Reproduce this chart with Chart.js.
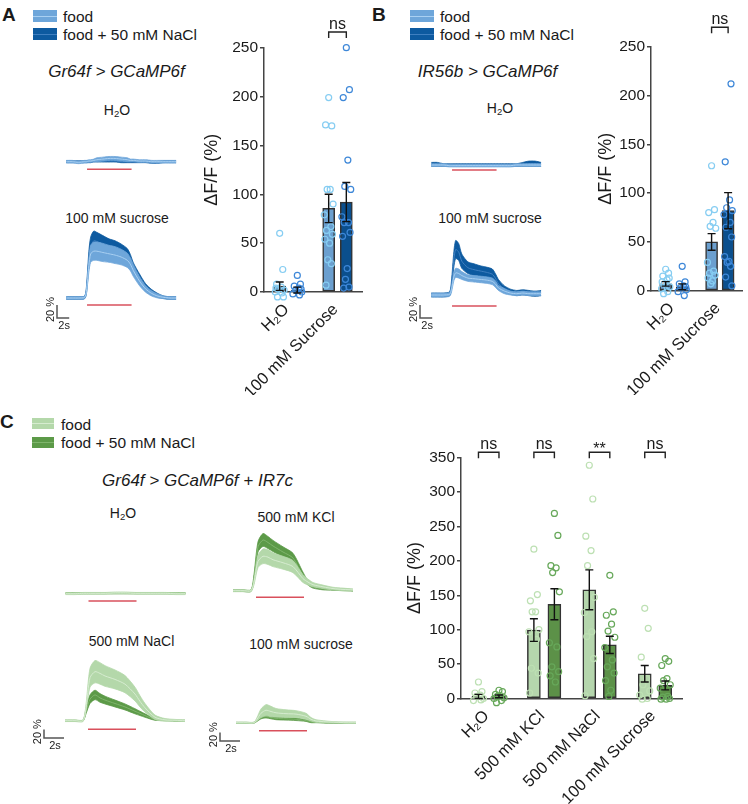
<!DOCTYPE html>
<html><head><meta charset="utf-8">
<script src="https://cdn.jsdelivr.net/npm/chart.js@4.4.1/dist/chart.umd.min.js"></script>
<style>
html,body{margin:0;padding:0;background:#fff;}
body{width:748px;height:804px;position:relative;overflow:hidden;font-family:"Liberation Sans",Arial,Helvetica,sans-serif;color:#1a1a1a;}
canvas{position:absolute;}
.t{position:absolute;white-space:nowrap;transform:translate(-50%,-50%);line-height:1;}
.l{position:absolute;white-space:nowrap;transform:translateY(-50%);line-height:1;font-size:15.5px;}
.sw{position:absolute;}
.sw div{position:absolute;left:0;right:0;height:1px;}
sub{font-size:0.68em;vertical-align:-0.25em;line-height:0;}
.pl{position:absolute;font-weight:bold;font-size:19px;line-height:1;}
.it{font-style:italic;font-size:17px;}
.tl{font-size:14px;}
</style></head><body>

<div class="pl" style="left:2px;top:5px">A</div>
<div class="sw" style="left:33px;top:10px;width:24px;height:12px;background:#6ea6da"><div style="top:5.5px;background:#a9d0f2"></div></div>
<div class="sw" style="left:33px;top:28px;width:24px;height:12px;background:#0d5aa0"><div style="top:5.5px;background:#3f7fc0"></div></div>
<div class="l" style="left:63px;top:17px">food</div>
<div class="l" style="left:63px;top:35px">food + 50 mM NaCl</div>
<div class="t it" style="left:116.5px;top:71px">Gr64f &gt; GCaMP6f</div>
<div class="t tl" style="left:117px;top:110px">H<sub>2</sub>O</div>
<div class="t tl" style="left:117px;top:218px">100 mM sucrose</div>

<div class="pl" style="left:372px;top:5px">B</div>
<div class="sw" style="left:410px;top:10px;width:24px;height:12px;background:#6ea6da"><div style="top:5.5px;background:#a9d0f2"></div></div>
<div class="sw" style="left:410px;top:28px;width:24px;height:12px;background:#0d5aa0"><div style="top:5.5px;background:#3f7fc0"></div></div>
<div class="l" style="left:440px;top:17px">food</div>
<div class="l" style="left:440px;top:35px">food + 50 mM NaCl</div>
<div class="t it" style="left:487.5px;top:71px">IR56b &gt; GCaMP6f</div>
<div class="t tl" style="left:500px;top:108px">H<sub>2</sub>O</div>
<div class="t tl" style="left:490px;top:218px">100 mM sucrose</div>

<div class="pl" style="left:0px;top:412px">C</div>
<div class="sw" style="left:32px;top:418px;width:22px;height:11px;background:#b4d8aa"><div style="top:5px;background:#d6ecd0"></div></div>
<div class="sw" style="left:32px;top:437px;width:22px;height:11px;background:#5c9a48"><div style="top:5px;background:#7fb56c"></div></div>
<div class="l" style="left:61px;top:425px">food</div>
<div class="l" style="left:61px;top:443px">food + 50 mM NaCl</div>
<div class="t it" style="left:197.5px;top:480px">Gr64f &gt; GCaMP6f + IR7c</div>
<div class="t tl" style="left:123px;top:513px">H<sub>2</sub>O</div>
<div class="t tl" style="left:296px;top:517px">500 mM KCl</div>
<div class="t tl" style="left:131.5px;top:641px">500 mM NaCl</div>
<div class="t tl" style="left:301px;top:644px">100 mM sucrose</div>

<script>
// ================= DATA =================
const catsAB = ['H₂O', '100 mM Sucrose'];
const catsC = ['H₂O', '500 mM KCl', '500 mM NaCl', '100 mM Sucrose'];
const yTicksAB = [0, 50, 100, 150, 200, 250];
const yTicksC = [0, 50, 100, 150, 200, 250, 300, 350];

// Panel A bars (mean ± SEM, ΔF/F %)
const barA_food_mean = [6, 85.5];
const barA_food_sem = [4.3, 14.5];
const barA_nacl_mean = [2, 92];
const barA_nacl_sem = [3, 20];
const ptsA_food = [[60, 23, 8, 5, 3, 2, 0, -1, -5, -5, 4], [199, 170, 171, 105, 105, 90, 79, 67, 63, 59, 54, 50, 33, 29, 7]];
const ptsA_nacl = [[17, 8, 6, 4, 2, 0, -2, -3, -15, 3], [250, 207, 199, 135, 108, 105, 77, 71, 71, 61, 57, 24, 13, 5, 4]];
const sigA = ['', 'ns'];

// Panel B bars
const barB_food_mean = [7, 50];
const barB_food_sem = [2.3, 8.5];
const barB_nacl_mean = [4, 82];
const barB_nacl_sem = [3, 18.5];
const ptsB_food = [[22, 18, 15, 11, 7, 4, 2, -1, -3, 13, 9], [128, 83, 80, 70, 66, 64, 29, 20, 18, 16, 13, 10, 7]];
const ptsB_nacl = [[25, 9, 7, 5, 3, 1, -1, -5, -12, 4], [259, 212, 132, 93, 85, 82, 78, 70, 65, 55, 35, 30, 29, 25, 14, 5]];
const sigB = ['', 'ns'];

// Panel C bars
const barC_food_mean = [3, 99.5, 158, 36];
const barC_food_sem = [3, 16.5, 29, 12];
const barC_nacl_mean = [3, 137, 78, 19];
const barC_nacl_sem = [2, 22.5, 12.5, 6.5];
const ptsC_food = [[24, 10, 8, 5, 3, 0, -3, -2], [217, 151, 142, 126, 126, 100, 97, 86, 44, 37, 8], [339, 290, 236, 215, 193, 147, 125, 97, 90, 58, 4], [131, 102, 60, 29, 20, 11, 5, 0, -1]];
const ptsC_nacl = [[12, 10, 6, 4, 3, 1, 0, -3, -6, -10], [269, 237, 193, 190, 183, 155, 81, 75, 46, 39, 33, 24], [179, 126, 121, 108, 98, 89, 74, 56, 46, 37, 26, 12, 3], [58, 54, 48, 29, 26, 20, 15, 3, 2, 0, -1, -1]];
const sigC = ['ns', 'ns', '**', 'ns'];

// Calcium traces (time in s, ΔF/F % mean and SEM)
const timeAB = [0, 1, 2, 3, 3.3, 3.7, 4, 4.5, 5, 6, 7, 8, 9, 10, 10.5, 11, 12, 13, 14, 15, 16, 17, 18];
const stimAB = [3.4, 10.7];
const trA_h2o_food_mean = [0, 0, -1, 0, 0, 1, 1, 2, 3, 4, 5, 5, 4, 3, 2, 2, 1, 1, 0, 0, 0, 0, 0];
const trA_h2o_food_sem = [2, 2, 2, 2, 2, 2, 2, 2, 3, 3, 3, 3, 3, 3, 2, 2, 2, 2, 2, 2, 2, 2, 2];
const trA_h2o_nacl_mean = [0, 0, 0, 0, 0, 0, 0, 1, 1, 1, 1, 1, 0, 0, 0, 0, 0, 0, -1, -1, 0, 0, 0];
const trA_h2o_nacl_sem = [1.5, 1.5, 1.5, 1.5, 1.5, 1.5, 1.5, 1.5, 1.5, 1.5, 1.5, 1.5, 1.5, 1.5, 1.5, 1.5, 1.5, 1.5, 1.5, 1.5, 1.5, 1.5, 1.5];
const trA_suc_food_mean = [0, 0, 0, 1, 10, 50, 68, 72, 72, 70, 68, 66, 63, 58, 52, 42, 26, 14, 7, 3, 1, 0, 0];
const trA_suc_food_sem = [2, 2, 2, 2, 4, 10, 13, 14, 14, 14, 13, 13, 12, 11, 10, 9, 7, 5, 4, 3, 2, 2, 2];
const trA_suc_nacl_mean = [0, 0, 0, 1, 12, 60, 80, 88, 87, 83, 79, 76, 72, 66, 58, 46, 30, 17, 9, 4, 1, 0, 0];
const trA_suc_nacl_sem = [2, 2, 2, 2, 5, 12, 14, 15, 14, 13, 12, 12, 11, 10, 9, 8, 7, 5, 4, 3, 2, 2, 2];

const trB_h2o_food_mean = [0, 0, 0, -1, -1, -1, -1, -1, -1, -1, -1, -1, -1, -1, -1, -1, -1, -1, 0, 0, 0, 0, 0];
const trB_h2o_food_sem = [2, 2, 2, 2, 2, 2, 2, 2, 2, 2, 2, 2, 2, 2, 2, 2, 2, 2, 2, 2, 2, 2, 2];
const trB_h2o_nacl_mean = [1, 1, 0, 0, 0, 0, 0, 0, 0, 0, 0, 0, 0, 0, 0, 0, 0, 0, 0, 1, 2, 2, 1];
const trB_h2o_nacl_sem = [3, 3, 2, 2, 2, 2, 2, 2, 2, 2, 2, 2, 2, 2, 2, 2, 2, 2, 2, 3, 4, 4, 3];
const trB_suc_food_mean = [0, 0, 0, 1, 8, 28, 34, 33, 30, 26, 25, 24, 23, 21, 17, 11, 6, 3, 2, 3, 2, 2, 2];
const trB_suc_food_sem = [3, 3, 3, 3, 4, 6, 7, 7, 6, 5, 5, 5, 5, 5, 5, 4, 4, 3, 3, 3, 3, 3, 3];
const trB_suc_nacl_mean = [0, 0, 0, 2, 15, 55, 70, 66, 52, 42, 39, 37, 35, 32, 26, 18, 9, 5, 3, 4, 3, 2, 3];
const trB_suc_nacl_sem = [3, 3, 3, 3, 6, 12, 14, 13, 11, 9, 9, 8, 8, 8, 7, 6, 5, 4, 4, 4, 4, 4, 4];

const timeC = [0, 1, 1.8, 2.1, 2.5, 3, 3.5, 4, 5, 6, 7, 7.5, 8, 9, 10, 11, 12];
const stimC = [2.3, 7.1];
const trC_h2o_food_mean = [-1, -1, 0, 0, 0, 0, 0, 0, 1, 1, 0, 0, 0, 0, 0, -1, -1];
const trC_h2o_food_sem = [2, 2, 2, 2, 2, 2, 2, 2, 2, 2, 2, 2, 2, 2, 2, 2, 2];
const trC_h2o_nacl_mean = [0, 0, 0, 0, 0, 0, 0, 0, 0, 0, 0, 0, 0, 0, 0, 0, 0];
const trC_h2o_nacl_sem = [1.2, 1.2, 1.2, 1.2, 1.2, 1.2, 1.2, 1.2, 1.2, 1.2, 1.2, 1.2, 1.2, 1.2, 1.2, 1.2, 1.2];
const trC_kcl_food_mean = [0, 0, 0, 20, 68, 80, 78, 72, 65, 56, 28, 20, 14, 9, 5, 3, 2];
const trC_kcl_food_sem = [2, 2, 2, 6, 14, 17, 17, 16, 15, 14, 9, 7, 5, 4, 3, 3, 2];
const trC_kcl_nacl_mean = [0, 0, 0, 30, 102, 118, 112, 104, 90, 76, 35, 18, 10, 5, 3, 2, 1];
const trC_kcl_nacl_sem = [2, 2, 2, 8, 12, 15, 14, 13, 12, 11, 8, 5, 4, 3, 2, 2, 2];
const trC_nacl_food_mean = [0, 0, 0, 30, 100, 114, 110, 104, 96, 85, 62, 45, 30, 8, 2, 1, 0];
const trC_nacl_food_sem = [2, 2, 2, 8, 22, 26, 25, 24, 22, 20, 16, 13, 10, 5, 3, 2, 2];
const trC_nacl_nacl_mean = [0, 0, 0, 22, 50, 60, 53, 48, 40, 32, 22, 17, 12, 3, 1, 0, 0];
const trC_nacl_nacl_sem = [1, 1, 1, 6, 10, 11, 10, 9, 8, 7, 6, 5, 4, 2, 1, 1, 1];
const trC_suc_food_mean = [0, 0, 0, 8, 22, 29, 26, 23, 21, 20, 15, 8, 4, 2, 1, 0, 0];
const trC_suc_food_sem = [1, 1, 1, 4, 10, 13, 12, 10, 9, 8, 7, 4, 3, 2, 1, 1, 1];
const trC_suc_nacl_mean = [0, 0, 0, 5, 12, 14, 12, 10, 9, 8, 5, 2, 1, 0, 0, 0, 0];
const trC_suc_nacl_sem = [1, 1, 1, 2, 3, 3, 3, 3, 3, 3, 2, 2, 1, 1, 1, 1, 1];

// ================= RENDERING =================
const FF = "'Liberation Sans', Arial, Helvetica, sans-serif";
const INK = '#1a1a1a';
const BLUE = {band: '#6ea6da', bandLine: '#a9d0f2', dark: '#0d5aa0', darkLine: '#3f7fc0',
              barL: '#6b9fcf', barD: '#0b4f8d', ptL: '#86cdf2', ptD: '#3d87d8'};
const GREEN = {band: '#b4d8aa', bandLine: '#d6ecd0', dark: '#5c9a48', darkLine: '#7fb56c',
               barL: '#b5d6ad', barD: '#5c9148', ptL: '#bde0b3', ptD: '#67a85a'};
const STIM = '#d9505c';

function makeCanvas(box) {
  const c = document.createElement('canvas');
  c.width = box.w; c.height = box.h;
  c.style.left = box.x + 'px'; c.style.top = box.y + 'px';
  c.style.width = box.w + 'px'; c.style.height = box.h + 'px';
  document.body.appendChild(c);
  return c;
}

const errPlugin = {
  id: 'errbars',
  afterDatasetsDraw(chart) {
    const ctx = chart.ctx, y = chart.scales.y;
    chart.data.datasets.forEach((ds, di) => {
      if (!ds.errorBars) return;
      const meta = chart.getDatasetMeta(di);
      meta.data.forEach((el, j) => {
        const m = ds.errorMeans[j], e = ds.errorBars[j];
        const yt = y.getPixelForValue(m + e), yb = y.getPixelForValue(m - e);
        const x = el.x, cw = 4;
        ctx.save();
        ctx.strokeStyle = '#111'; ctx.lineWidth = 1.4;
        ctx.beginPath();
        ctx.moveTo(x, yt); ctx.lineTo(x, yb);
        ctx.moveTo(x - cw, yt); ctx.lineTo(x + cw, yt);
        ctx.moveTo(x - cw, yb); ctx.lineTo(x + cw, yb);
        ctx.stroke();
        ctx.restore();
      });
    });
  }
};

const sigPlugin = {
  id: 'sig',
  afterDraw(chart, args, o) {
    if (!o || !o.labels) return;
    const ctx = chart.ctx, y = chart.scales.y;
    const mA = chart.getDatasetMeta(o.a), mB = chart.getDatasetMeta(o.b);
    const yp = y.getPixelForValue(o.level);
    ctx.save();
    ctx.strokeStyle = '#222'; ctx.lineWidth = 1.4; ctx.fillStyle = INK;
    ctx.font = '16px ' + FF; ctx.textAlign = 'center'; ctx.textBaseline = 'alphabetic';
    o.labels.forEach((lab, i) => {
      if (!lab) return;
      const x0 = mA.data[i].x, x1 = mB.data[i].x;
      ctx.beginPath();
      ctx.moveTo(x0, yp + 6); ctx.lineTo(x0, yp); ctx.lineTo(x1, yp); ctx.lineTo(x1, yp + 6);
      ctx.stroke();
      ctx.fillText(lab, (x0 + x1) / 2, lab === '**' ? yp + 2 : yp - 3);
    });
    ctx.restore();
  }
};

const JIT = [0, 0.7, -0.7, 0.35, -0.35, 1, -1, 0.5, -0.5, 0.85, -0.85, 0.2, -0.2, 0.6, -0.6, 0.9, -0.9];
function pointSet(groups, side, off, jw) {
  const out = [];
  groups.forEach((vals, g) => vals.forEach((v, i) => out.push({x: g + side * off + JIT[i % JIT.length] * jw, y: v})));
  return out;
}

function barChart(box, geo, cats, ticks, fm, fs, nm, ns, pf, pn, sig, col) {
  const c = makeCanvas(box);
  const off = geo.off;
  const bars = (means, side) => means.map((m, g) => ({x: g + side * off, y: m}));
  const barStyle = {type: 'bar', xAxisID: 'x2', grouped: false, barThickness: geo.bw,
                    borderColor: '#333', borderWidth: 1.5, borderSkipped: false};
  new Chart(c, {
    type: 'bar',
    data: {
      labels: cats,
      datasets: [
        {type: 'scatter', xAxisID: 'x2', data: pointSet(pf, -1, off, geo.jw), borderColor: col.ptL,
         backgroundColor: 'rgba(0,0,0,0)', pointRadius: 3, pointBorderWidth: 1.2, clip: false},
        {type: 'scatter', xAxisID: 'x2', data: pointSet(pn, 1, off, geo.jw), borderColor: col.ptD,
         backgroundColor: 'rgba(0,0,0,0)', pointRadius: 3, pointBorderWidth: 1.2, clip: false},
        Object.assign({data: bars(fm, -1), errorMeans: fm, errorBars: fs, backgroundColor: col.barL}, barStyle),
        Object.assign({data: bars(nm, 1), errorMeans: nm, errorBars: ns, backgroundColor: col.barD}, barStyle)
      ]
    },
    options: {
      responsive: false, animation: false, devicePixelRatio: 1,
      layout: {padding: {left: 0, top: geo.padTop, right: geo.padRight, bottom: 0}},
      plugins: {legend: {display: false}, tooltip: {enabled: false},
                sig: {labels: sig, level: geo.sigLevel, a: 2, b: 3}},
      scales: {
        x: {type: 'category', offset: true, grid: {display: false},
            border: {display: true, color: '#444', width: 1.5},
            ticks: {minRotation: 45, maxRotation: 45, autoSkip: false, color: INK, padding: 0,
                    labelOffset: -2, font: {size: 16.5, family: FF}},
            afterFit: s => { s.height = geo.xH; }},
        x2: {type: 'linear', display: false, offset: false, grid: {offset: false},
             min: -0.5, max: cats.length - 0.5},
        y: {min: 0, max: ticks[ticks.length - 1],
            afterBuildTicks: s => { s.ticks = ticks.map(v => ({value: v})); },
            grid: {display: true, drawOnChartArea: false, drawTicks: true, tickLength: 4, color: '#444', lineWidth: 1.5},
            border: {display: true, color: '#444', width: 1.5},
            ticks: {color: INK, padding: 2, font: {size: 15.5, family: FF}},
            title: {display: true, text: 'ΔF/F (%)', color: INK, font: {size: 18, family: FF},
                    padding: {top: geo.titlePad, bottom: 0}},
            afterFit: s => { s.width = geo.yW; }}
      }
    },
    plugins: [errPlugin, sigPlugin]
  });
}

const stimPlugin = {
  id: 'stim',
  afterDatasetsDraw(chart, args, o) {
    if (!o || !o.range) return;
    const ctx = chart.ctx, x = chart.scales.x, y = chart.scales.y;
    const yy = y.getPixelForValue(0) + o.offset;
    ctx.save();
    ctx.strokeStyle = STIM; ctx.lineWidth = 1.6;
    ctx.beginPath();
    ctx.moveTo(x.getPixelForValue(o.range[0]), yy);
    ctx.lineTo(x.getPixelForValue(o.range[1]), yy);
    ctx.stroke();
    ctx.restore();
  }
};

const sbarPlugin = {
  id: 'sbar',
  afterDraw(chart, args, o) {
    if (!o || !o.show) return;
    const ctx = chart.ctx, x = chart.scales.x, y = chart.scales.y;
    const h = x.getPixelForValue(o.sec) - x.getPixelForValue(0);
    const v = y.getPixelForValue(0) - y.getPixelForValue(o.pct);
    const cx = o.cx, cy = o.cy;
    ctx.save();
    ctx.strokeStyle = '#555'; ctx.lineWidth = 1.5;
    ctx.beginPath();
    ctx.moveTo(cx, cy - v); ctx.lineTo(cx, cy); ctx.lineTo(cx + h, cy);
    ctx.stroke();
    ctx.fillStyle = INK; ctx.font = '11px ' + FF; ctx.textAlign = 'center'; ctx.textBaseline = 'middle';
    ctx.fillText(o.sec + 's', cx + h / 2 + 1, cy + 8);
    ctx.translate(cx - 6, cy - v / 2 - 2);
    ctx.rotate(-Math.PI / 2);
    ctx.fillText(o.pct + ' %', 0, 0);
    ctx.restore();
  }
};

function traceChart(box, g, time, food, nacl, stim, col, sb) {
  const c = makeCanvas(box);
  const xmin = (box.x - g.x0) / g.pps, xmax = (box.x + box.w - g.x0) / g.pps;
  const ymax = (g.base - box.y) / g.ppp, ymin = -(box.y + box.h - g.base) / g.ppp;
  const line = (m) => time.map((t, i) => ({x: t, y: m[i]}));
  const up = (m, s) => time.map((t, i) => ({x: t, y: m[i] + s[i]}));
  const lo = (m, s) => time.map((t, i) => ({x: t, y: m[i] - s[i]}));
  const base = {pointRadius: 0, tension: 0.25};
  new Chart(c, {
    type: 'line',
    data: {
      datasets: [
        Object.assign({data: line(food[0]), borderColor: col.bandLine, borderWidth: 1, fill: false}, base),
        Object.assign({data: up(food[0], food[1]), borderColor: col.band, borderWidth: 0.8, backgroundColor: col.band, fill: '+1'}, base),
        Object.assign({data: lo(food[0], food[1]), borderColor: col.band, borderWidth: 0.8, fill: false}, base),
        Object.assign({data: line(nacl[0]), borderColor: col.darkLine, borderWidth: 1, fill: false}, base),
        Object.assign({data: up(nacl[0], nacl[1]), borderColor: col.dark, borderWidth: 0.8, backgroundColor: col.dark, fill: '+1'}, base),
        Object.assign({data: lo(nacl[0], nacl[1]), borderColor: col.dark, borderWidth: 0.8, fill: false}, base)
      ]
    },
    options: {
      responsive: false, animation: false, devicePixelRatio: 1,
      layout: {padding: 0},
      plugins: {legend: {display: false}, tooltip: {enabled: false},
                stim: {range: stim, offset: g.stimOff},
                sbar: sb ? {show: true, cx: sb[0] - box.x, cy: sb[1] - box.y, pct: 20, sec: 2} : {show: false}},
      scales: {
        x: {type: 'linear', display: false, min: xmin, max: xmax},
        y: {type: 'linear', display: false, min: ymin, max: ymax}
      }
    },
    plugins: [stimPlugin, sbarPlugin]
  });
}

// ---- Panel A ----
barChart({x: 195, y: 15, w: 180, h: 380},
  {yW: 69, padTop: 32.7, padRight: 13, xH: 103, titlePad: 6.2, sigLevel: 266, off: 0.18, bw: 12, jw: 0.09},
  catsAB, yTicksAB, barA_food_mean, barA_food_sem, barA_nacl_mean, barA_nacl_sem, ptsA_food, ptsA_nacl, sigA, BLUE);
traceChart({x: 40, y: 135, w: 150, h: 45}, {x0: 66.3, pps: 6.1, base: 161.7, ppp: 0.65, stimOff: 7.6},
  timeAB, [trA_h2o_food_mean, trA_h2o_food_sem], [trA_h2o_nacl_mean, trA_h2o_nacl_sem], stimAB, BLUE, null);
traceChart({x: 30, y: 225, w: 160, h: 115}, {x0: 66.3, pps: 6.1, base: 298, ppp: 0.65, stimOff: 7},
  timeAB, [trA_suc_food_mean, trA_suc_food_sem], [trA_suc_nacl_mean, trA_suc_nacl_sem], stimAB, BLUE, [57, 318]);

// ---- Panel B ----
barChart({x: 585, y: 15, w: 163, h: 380},
  {yW: 66, padTop: 31.7, padRight: 0, xH: 104.3, titlePad: 10.7, sigLevel: 270, off: 0.18, bw: 12, jw: 0.09},
  catsAB, yTicksAB, barB_food_mean, barB_food_sem, barB_nacl_mean, barB_nacl_sem, ptsB_food, ptsB_nacl, sigB, BLUE);
traceChart({x: 400, y: 135, w: 160, h: 45}, {x0: 431.3, pps: 6.1, base: 165, ppp: 0.65, stimOff: 5},
  timeAB, [trB_h2o_food_mean, trB_h2o_food_sem], [trB_h2o_nacl_mean, trB_h2o_nacl_sem], stimAB, BLUE, null);
traceChart({x: 395, y: 225, w: 165, h: 115}, {x0: 431.3, pps: 6.1, base: 295, ppp: 0.65, stimOff: 11},
  timeAB, [trB_suc_food_mean, trB_suc_food_sem], [trB_suc_nacl_mean, trB_suc_nacl_sem], stimAB, BLUE, [420, 318]);

// ---- Panel C ----
barChart({x: 400, y: 420, w: 290, h: 384},
  {yW: 61, padTop: 37.7, padRight: 7.3, xH: 105.5, titlePad: 4.7, sigLevel: 358, off: 0.185, bw: 13, jw: 0.09},
  catsC, yTicksC, barC_food_mean, barC_food_sem, barC_nacl_mean, barC_nacl_sem, ptsC_food, ptsC_nacl, sigC, GREEN);
traceChart({x: 40, y: 570, w: 160, h: 40}, {x0: 65.5, pps: 10, base: 593.3, ppp: 0.43, stimOff: 7.7},
  timeC, [trC_h2o_food_mean, trC_h2o_food_sem], [trC_h2o_nacl_mean, trC_h2o_nacl_sem], stimC, GREEN, null);
traceChart({x: 215, y: 520, w: 150, h: 90}, {x0: 233, pps: 10, base: 590.7, ppp: 0.43, stimOff: 6.6},
  timeC, [trC_kcl_food_mean, trC_kcl_food_sem], [trC_kcl_nacl_mean, trC_kcl_nacl_sem], stimC, GREEN, null);
traceChart({x: 20, y: 650, w: 180, h: 110}, {x0: 65, pps: 10, base: 720.7, ppp: 0.43, stimOff: 8.6},
  timeC, [trC_nacl_food_mean, trC_nacl_food_sem], [trC_nacl_nacl_mean, trC_nacl_nacl_sem], stimC, GREEN, [44, 738]);
traceChart({x: 200, y: 650, w: 165, h: 110}, {x0: 236, pps: 10, base: 722.7, ppp: 0.43, stimOff: 8},
  timeC, [trC_suc_food_mean, trC_suc_food_sem], [trC_suc_nacl_mean, trC_suc_nacl_sem], stimC, GREEN, [220, 741]);
</script>
</body></html>
